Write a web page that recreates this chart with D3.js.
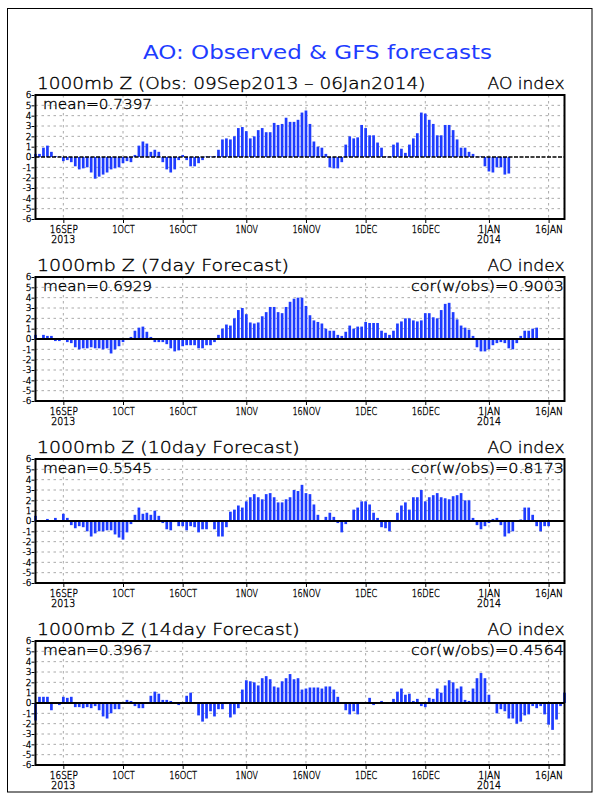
<!DOCTYPE html>
<html>
<head>
<meta charset="utf-8">
<script src="https://cdn.jsdelivr.net/npm/d3@7"></script>
<style>
  body { margin: 0; background: #fff; }
  text { font-family: "DejaVu Sans", sans-serif; font-weight: 200; stroke: #000; stroke-width: 0.35px; }
  text.title { font-weight: 400; stroke: none; }
</style>
</head>
<body>
<div id="wrapper"></div>
<script>
// first day of every series is 09Sep2013, one value per day
const startDay = "2013-09-09";
const endDay = "2014-01-20";

// observed AO index (09Sep2013 - 06Jan2014)
const obsValues = [
  0.3, 0.3, 0.9, 1.1, 0.5, 0.1, 0.05, -0.4, -0.3, -0.5,
  -0.9, -1.2, -1.1, -1.0, -1.5, -2.1, -1.9, -1.7, -1.5, -1.2,
  -1.1, -1.0, -0.6, -0.4, -0.5, 0.2, 1.1, 1.5, 1.3, 0.5,
  0.7, 0.5, -0.5, -1.2, -1.5, -1.2, -0.3, 0.2, -0.3, -0.9,
  -0.9, -0.6, -0.3, 0.05, 0.05, 0.1, 0.7, 1.7, 1.8, 1.7,
  2.0, 2.8, 2.9, 2.5, 1.8, 2.0, 2.6, 2.8, 2.4, 2.4,
  3.3, 3.1, 3.2, 3.8, 3.4, 3.4, 3.6, 4.3, 4.5, 3.2,
  1.5, 1.0, 0.9, 0.3, -1.0, -1.1, -1.1, -0.5, 1.2, 2.0,
  1.8, 1.9, 3.1, 2.8, 2.1, 2.1, 1.4, 0.9, 0.05, 0.05,
  1.2, 1.4, 0.8, 0.4, 1.2, 1.8, 2.3, 4.3, 4.2, 3.6,
  3.2, 2.1, 2.1, 3.1, 3.1, 2.6, 1.7, 0.9, 0.9, 0.5,
  0.3, 0.05, 0.05, -0.9, -1.4, -1.5, -1.0, -1.0, -1.7, -1.6
];

// GFS 7 day forecast, by verifying day
const fc7Values = [
  0.4, 0.05, 0.4, 0.3, 0.3, -0.2, -0.2, -0.1, -0.3, -0.4,
  -0.8, -1.0, -0.9, -0.9, -0.8, -0.9, -0.9, -1.0, -0.9, -1.4,
  -1.0, -0.7, -0.3, -0.1, 0.2, 0.8, 1.1, 1.2, 0.7, 0.2,
  -0.3, -0.3, -0.3, -0.5, -0.9, -1.2, -1.1, -0.7, -0.6, -0.6,
  -0.6, -0.9, -0.9, -0.6, -0.6, -0.3, 0.4, 1.0, 1.4, 1.3,
  2.0, 2.8, 3.0, 2.4, 1.6, 1.5, 1.6, 2.2, 2.6, 3.1,
  3.1, 2.6, 2.5, 3.1, 3.6, 3.9, 4.0, 4.0, 3.2, 2.3,
  1.8, 1.65, 1.5, 1.0, 0.8, 0.8, 0.4, 0.3, 0.7, 1.3,
  1.0, 1.2, 1.2, 1.65, 1.55, 1.55, 1.55, 0.8, 0.6, 0.4,
  0.8, 1.5, 1.7, 2.0, 2.0, 1.8, 1.7, 1.8, 2.5, 2.5,
  2.1, 2.0, 2.8, 3.4, 3.5, 2.6, 1.9, 1.3, 1.1, 0.9,
  0.3, -0.8, -1.2, -1.2, -1.0, -0.6, -0.4, -0.3, -0.4, -0.9,
  -1.0, -0.4, 0.3, 0.8, 0.8, 1.0, 1.1
];

// GFS 10 day forecast
const fc10Values = [
  0.5, 0, 0, 0.2, 0, 0.3, 0, 0.7, 0.3, -0.4,
  -0.7, -0.5, -0.6, -1.0, -1.5, -1.2, -1.0, -1.0, -0.9, -0.9,
  -1.3, -1.6, -1.8, -1.1, -0.3, 0.6, 1.3, 0.7, 0.8, 0.6,
  1.0, 0.5, -0.2, -0.8, -0.9, -0.1, -0.5, -0.5, -0.9, -0.5,
  -0.6, -1.1, -0.8, -0.8, -0.1, -0.8, -1.5, -1.5, -0.6, 0.9,
  1.1, 1.5, 1.3, 1.9, 2.3, 2.6, 2.3, 2.1, 2.6, 2.7,
  2.3, 1.8, 1.8, 2.1, 2.3, 3.0, 2.9, 3.5, 2.7, 2.6,
  1.6, 0.6, 0, 0.4, 0.8, 0.4, -0.2, -1.1, -0.3, 0,
  1.1, 1.3, 1.9, 1.9, 1.6, 0.8, 0.3, -0.6, -0.7, -1.0,
  0, 0.8, 1.5, 1.8, 1.1, 2.3, 2.3, 3.0, 1.9, 2.3,
  2.5, 2.7, 2.3, 2.2, 2.1, 2.4, 2.5, 2.7, 2.0, 2.0,
  0.3, -0.4, -0.8, -0.5, -0.2, 0.2, 0.3, -0.4, -1.5, -1.2,
  -1.0, 0, 0.15, 1.3, 1.3, 0.6, -0.5, -1.0, -0.5, -0.5
];

// GFS 14 day forecast
const fc14Values = [
  -1.7, 0.6, 0.6, 0.6, -0.7, -0.1, -0.2, 0.6, 0.5, 0.6,
  -0.4, -0.4, -0.5, -0.4, -0.5, -0.3, -0.7, -1.3, -1.5, -1.0,
  -0.6, -0.6, 0, 0.3, 0.2, -0.3, -0.5, -0.5, 0, 0.7,
  1.1, 0.9, 0.3, 0.3, 0.2, 0, -0.2, -0.1, 0.7, 1.0,
  -0.1, -1.2, -1.8, -1.5, -0.8, -1.3, -0.6, -0.6, -0.1, -1.4,
  -1.1, -0.5, 1.3, 2.2, 2.1, 2.0, 1.7, 2.4, 2.6, 2.3,
  1.6, 1.5, 2.1, 2.4, 2.8, 2.3, 2.4, 1.3, 1.4, 1.5,
  1.5, 1.5, 1.4, 1.6, 1.6, 1.3, 0.6, 0, -0.7, -1.1,
  -0.8, -1.1, 0.1, 0.1, 0.5, -0.2, 0, 0.2, 0, 0,
  0.4, 1.1, 1.4, 0.8, 0.9, 0.2, 0.4, -0.3, -0.4, 0.5,
  0.4, 1.4, 1.0, 1.7, 2.2, 2.0, 1.4, 1.6, 0.3, 0.2,
  1.4, 2.4, 2.9, 2.4, 0.8, -0.1, -1.0, -0.6, -0.8, -1.5,
  -1.5, -2.0, -1.8, -1.2, -1.1, -0.3, -0.5, -0.3, -1.1, -2.1,
  -2.6, -1.6, -0.3, 1.0
];

// x axis ticks
const tickDays = ["2013-09-16", "2013-10-01", "2013-10-16", "2013-11-01", "2013-11-16",
                  "2013-12-01", "2013-12-16", "2014-01-01", "2014-01-16"];
const tickLabels = ["16SEP", "1OCT", "16OCT", "1NOV", "16NOV", "1DEC", "16DEC", "1JAN", "16JAN"];
const yearDays = ["2013-09-16", "2014-01-01"];
const yearLabels = ["2013", "2014"];
const yTicks = [-6, -5, -4, -3, -2, -1, 0, 1, 2, 3, 4, 5, 6];

// texts
const mainTitle = "AO: Observed & GFS forecasts";
const panelTitles = ["1000mb Z (Obs: 09Sep2013 \u2013 06Jan2014)", "1000mb Z (7day Forecast)",
                     "1000mb Z (10day Forecast)", "1000mb Z (14day Forecast)"];
const meanLabels = ["mean=0.7397", "mean=0.6929", "mean=0.5545", "mean=0.3967"];
const corLabels = ["", "cor(w/obs)=0.9003", "cor(w/obs)=0.8173", "cor(w/obs)=0.4564"];
const indexLabel = "AO index";

const seriesList = [obsValues, fc7Values, fc10Values, fc14Values];

const parseDay = d3.utcParse("%Y-%m-%d");
const blue = "#1e3cff";
const gridColor = "#aaaaaa";

var dimension = {
    width: 600,
    height: 800,
    left: 35.5,
    right: 564.5,
    panelHeight: 124,
    panelTops: [95, 277, 459, 641]
};

const svg = d3.select("#wrapper").append("svg")
    .attr("width", dimension.width)
    .attr("height", dimension.height);

svg.append("rect")
    .attr("width", dimension.width).attr("height", dimension.height)
    .attr("fill", "#fff");

// page border
svg.append("rect")
    .attr("x", 7.5).attr("y", 8.5)
    .attr("width", 584.5).attr("height", 783.5)
    .attr("fill", "none").attr("stroke", "#000").attr("stroke-width", 1);

svg.append("text")
    .attr("class", "title")
    .attr("x", 143).attr("y", 59)
    .attr("textLength", 349).attr("lengthAdjust", "spacingAndGlyphs")
    .attr("font-size", 20).attr("fill", blue)
    .text(mainTitle);

const xScaler = d3.scaleUtc()
    .domain([parseDay(startDay), parseDay(endDay)])
    .range([dimension.left, dimension.right]);

const yScaler = d3.scaleLinear()
    .domain([-6, 6])
    .range([dimension.panelHeight, 0]);

const tickDates = tickDays.map(parseDay);

seriesList.forEach((values, p) => {
    const top = dimension.panelTops[p];
    const g = svg.append("g").attr("transform", `translate(0,${top})`);

    // dashed grid
    g.append("g").selectAll("line")
        .data(yTicks.filter(v => v !== 0 && Math.abs(v) !== 6))
        .join("line")
        .attr("x1", dimension.left).attr("x2", dimension.right)
        .attr("y1", d => yScaler(d)).attr("y2", d => yScaler(d))
        .attr("stroke", gridColor).attr("stroke-dasharray", "2.5,3.5");
    g.append("g").selectAll("line")
        .data(tickDates)
        .join("line")
        .attr("x1", d => xScaler(d)).attr("x2", d => xScaler(d))
        .attr("y1", 0).attr("y2", dimension.panelHeight)
        .attr("stroke", gridColor).attr("stroke-dasharray", "2.5,3.5");

    // bars
    const barWidth = 2.7;
    g.append("g").selectAll("rect")
        .data(values.map((v, i) => ({ date: d3.utcDay.offset(parseDay(startDay), i), value: v })))
        .join("rect")
        .attr("x", d => xScaler(d.date) - barWidth / 2)
        .attr("width", barWidth)
        .attr("y", d => Math.min(yScaler(d.value), yScaler(0)))
        .attr("height", d => Math.abs(yScaler(d.value) - yScaler(0)))
        .attr("fill", blue);

    // zero line: dashed for obs, solid for forecasts
    const zero = g.append("line")
        .attr("x1", dimension.left).attr("x2", dimension.right)
        .attr("y1", yScaler(0)).attr("y2", yScaler(0))
        .attr("stroke", "#000");
    if (p === 0) zero.attr("stroke-width", 1.3).attr("stroke-dasharray", "4,1.5");
    else zero.attr("stroke-width", 2);

    // frame
    g.append("rect")
        .attr("x", dimension.left).attr("y", 0)
        .attr("width", dimension.right - dimension.left)
        .attr("height", dimension.panelHeight)
        .attr("fill", "none").attr("stroke", "#000").attr("stroke-width", 2);

    // y axis
    const yAxis = g.append("g")
        .attr("transform", `translate(${dimension.left - 1},0)`)
        .call(d3.axisLeft(yScaler).tickValues(yTicks).tickSize(3).tickPadding(0));
    yAxis.select(".domain").remove();
    yAxis.selectAll("text").attr("font-size", 9).attr("font-family", null)
        .text(d => d < 0 ? "-" + Math.abs(d) : d);

    // x axis
    const xAxis = g.append("g")
        .attr("transform", `translate(0,${dimension.panelHeight + 1})`)
        .call(d3.axisBottom(xScaler).tickValues(tickDates).tickSize(3).tickPadding(3)
            .tickFormat((d, i) => tickLabels[i]));
    xAxis.select(".domain").remove();
    xAxis.selectAll("text")
        .attr("font-size", 10).attr("font-family", null)
        .attr("textLength", (d, i) => tickLabels[i].length * 5.6)
        .attr("lengthAdjust", "spacingAndGlyphs");

    g.append("g").selectAll("text")
        .data(yearDays)
        .join("text")
        .attr("x", d => xScaler(parseDay(d)))
        .attr("y", dimension.panelHeight + 24)
        .attr("text-anchor", "middle")
        .attr("font-size", 10)
        .attr("textLength", 24).attr("lengthAdjust", "spacingAndGlyphs")
        .text((d, i) => yearLabels[i]);

    // titles and stats
    g.append("text")
        .attr("x", 37).attr("y", -6)
        .attr("font-size", 16)
        .attr("textLength", panelTitles[p].length * 10.5)
        .attr("lengthAdjust", "spacingAndGlyphs")
        .text(panelTitles[p]);
    g.append("text")
        .attr("x", dimension.right).attr("y", -6)
        .attr("text-anchor", "end").attr("font-size", 16)
        .attr("textLength", 77).attr("lengthAdjust", "spacingAndGlyphs")
        .text(indexLabel);
    g.append("text")
        .attr("x", 43).attr("y", 14)
        .attr("font-size", 14)
        .attr("textLength", 109).attr("lengthAdjust", "spacingAndGlyphs")
        .text(meanLabels[p]);
    if (corLabels[p]) {
        g.append("text")
            .attr("x", dimension.right - 0.5).attr("y", 14)
            .attr("text-anchor", "end").attr("font-size", 14)
            .attr("textLength", 153).attr("lengthAdjust", "spacingAndGlyphs")
            .text(corLabels[p]);
    }
});
</script>
</body>
</html>
